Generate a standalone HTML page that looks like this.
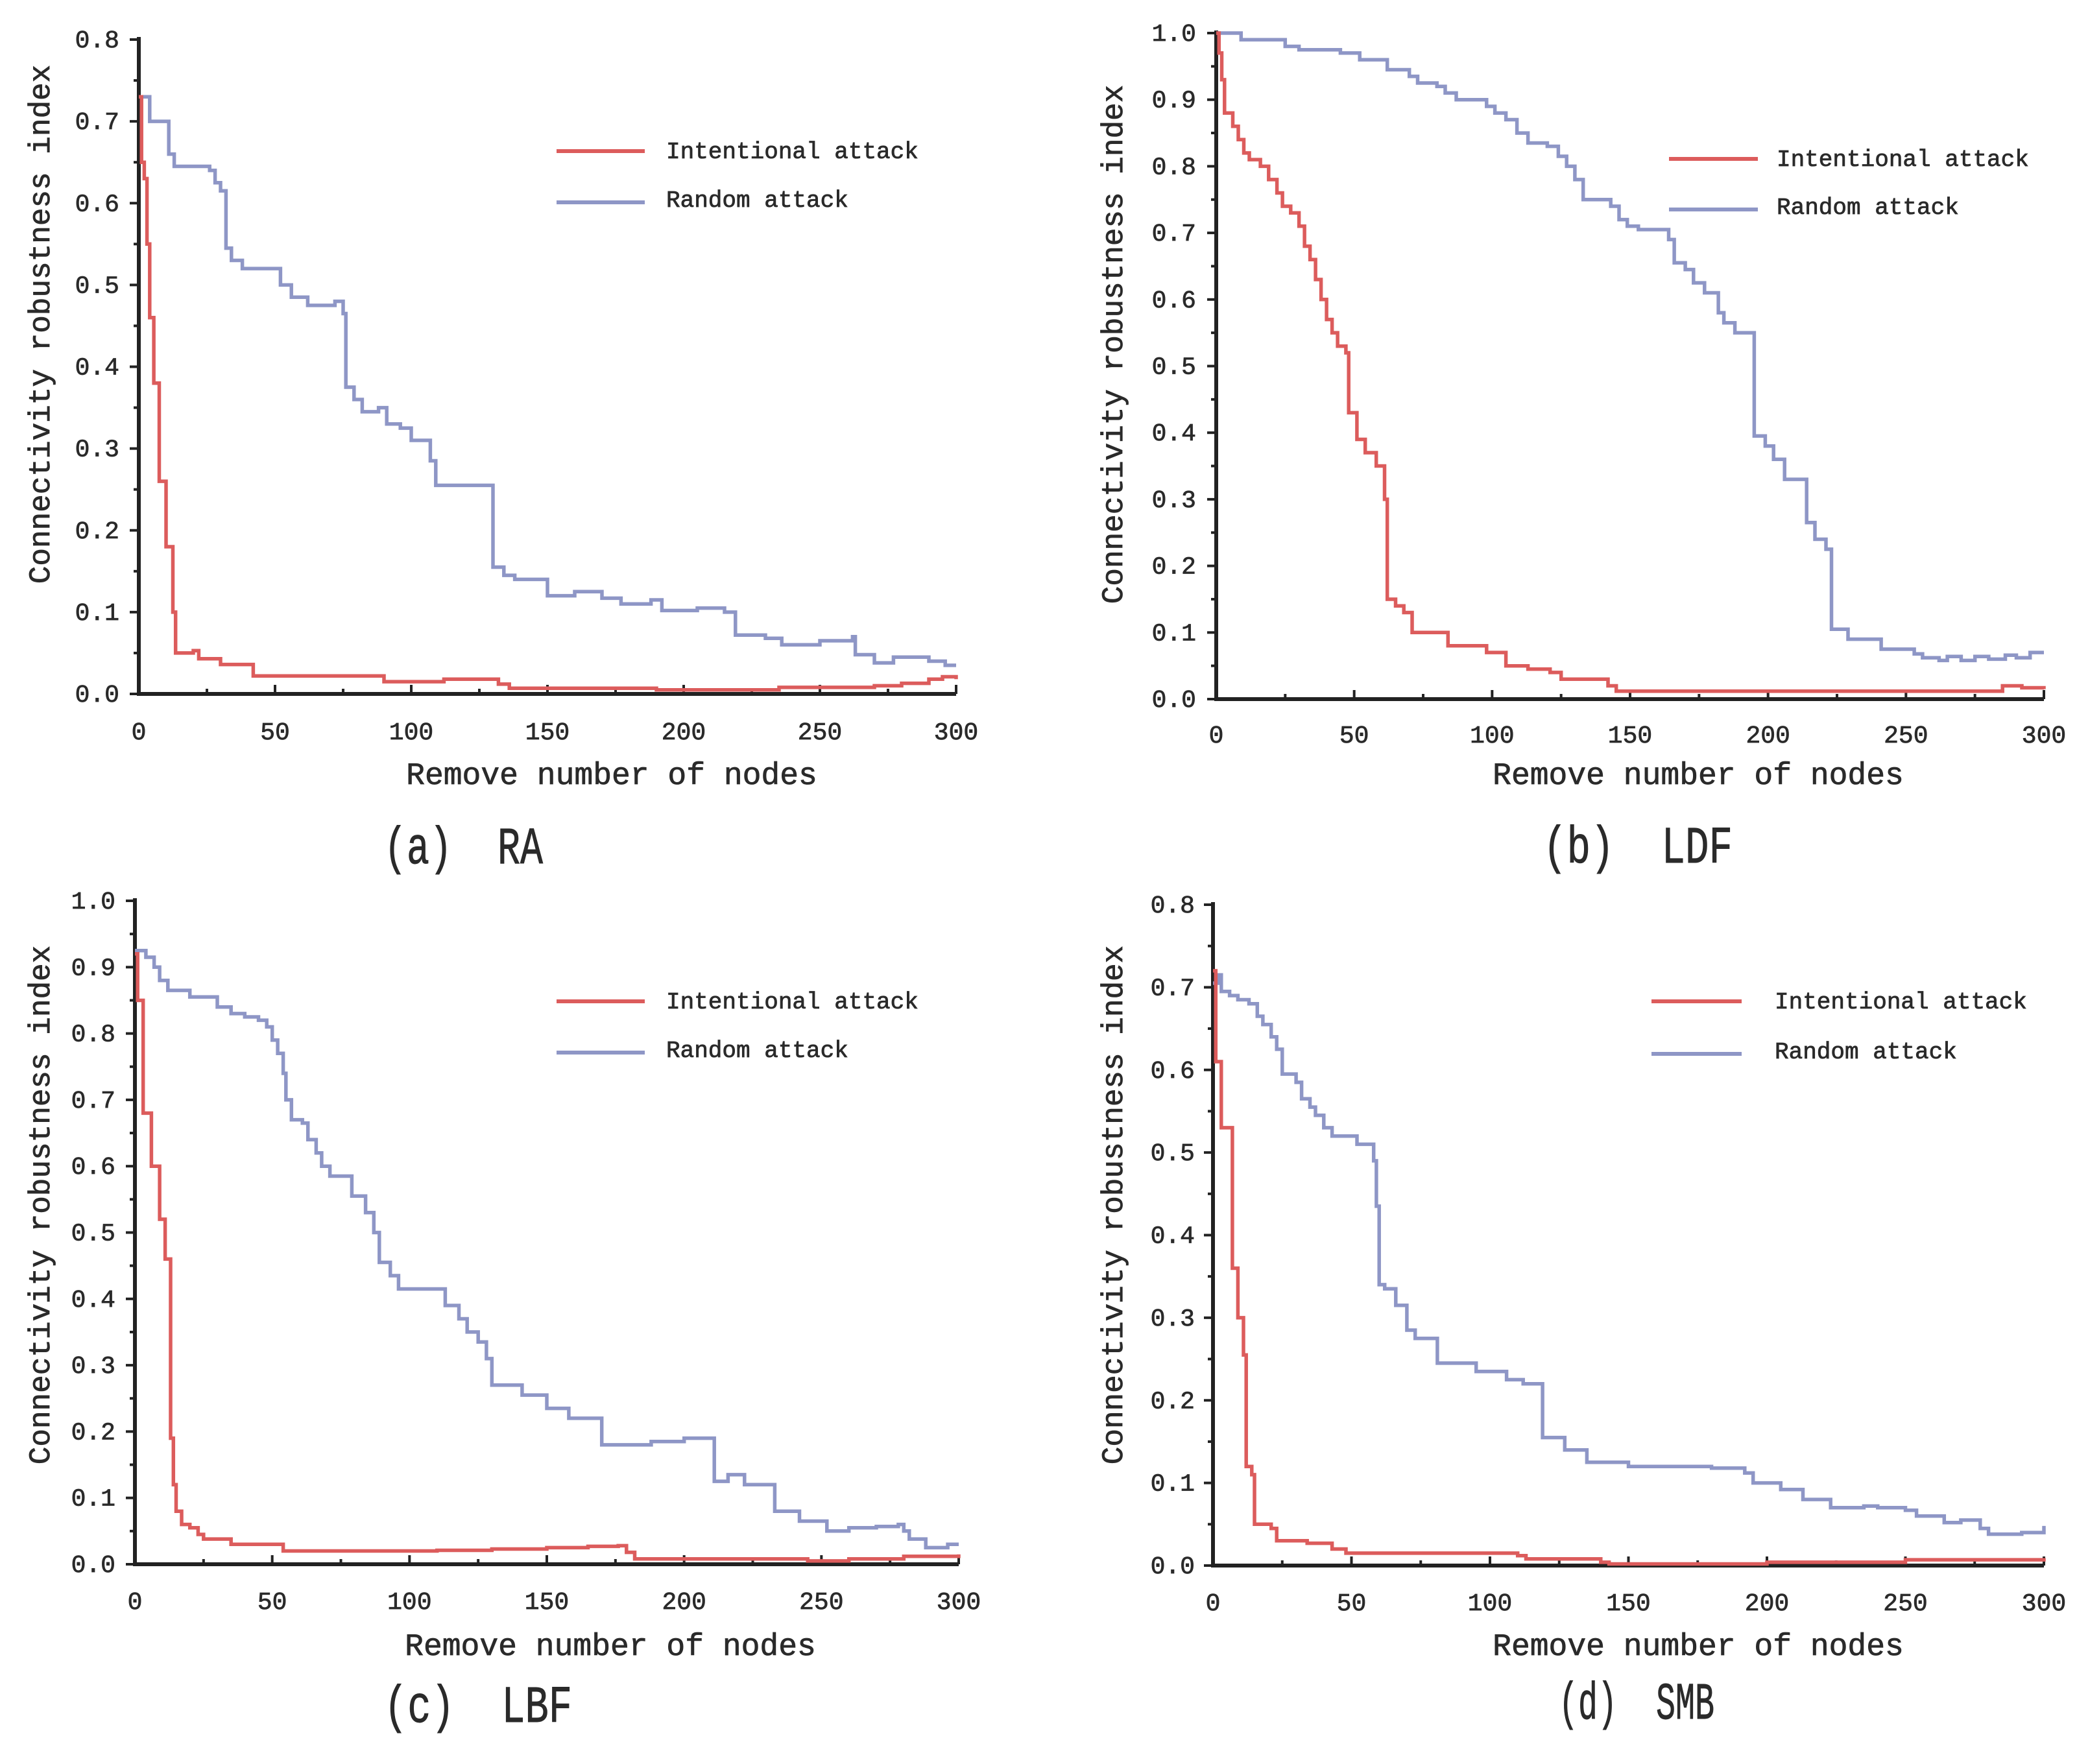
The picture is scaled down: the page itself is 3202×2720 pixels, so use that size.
<!DOCTYPE html>
<html><head><meta charset="utf-8">
<style>
html,body{margin:0;padding:0;background:#fff;}
svg{display:block;}
text{font-family:"Liberation Mono","DejaVu Sans Mono",monospace;fill:#2a2a2a;stroke:#2a2a2a;stroke-width:0.8px;}
</style></head>
<body>
<svg id="fig" width="3202" height="2720" viewBox="0 0 3202 2720" xmlns="http://www.w3.org/2000/svg"></svg>
<script>
// ---- data (step points: [removed nodes, robustness]) ----
const xTicks = [0,50,100,150,200,250,300];
const yTicks08 = [0.0,0.1,0.2,0.3,0.4,0.5,0.6,0.7,0.8];
const yTicks10 = [0.0,0.1,0.2,0.3,0.4,0.5,0.6,0.7,0.8,0.9,1.0];
const seriesNames = ["Intentional attack","Random attack"];

const raRed = [[0,0.73],[1,0.65],[2,0.63],[3,0.55],[4,0.46],[5.5,0.38],[7.5,0.26],[10,0.18],[12.5,0.10],[13.5,0.05],[20,0.053],[22,0.043],[30,0.036],[42,0.022],[90,0.015],[112,0.018],[132,0.012],[136,0.007],[190,0.005],[235,0.008],[270,0.01],[280,0.013],[290,0.018],[295,0.021],[300,0.018]];
const raBlue = [[0,0.73],[4,0.70],[11,0.66],[13,0.645],[26,0.64],[28,0.625],[30,0.615],[32,0.545],[34,0.53],[38,0.52],[52,0.50],[56,0.485],[62,0.475],[72,0.48],[75,0.465],[76,0.375],[79,0.36],[82,0.345],[88,0.35],[91,0.33],[96,0.325],[100,0.31],[107,0.285],[109,0.255],[114,0.255],[130,0.155],[134,0.145],[138,0.14],[150,0.12],[160,0.125],[170,0.117],[177,0.11],[188,0.115],[192,0.102],[205,0.105],[215,0.10],[219,0.072],[230,0.068],[236,0.06],[250,0.065],[262,0.07],[263,0.048],[270,0.038],[277,0.045],[290,0.04],[296,0.035],[300,0.035]];

const ldfRed = [[0,1.0],[1,0.97],[2,0.93],[3,0.88],[6,0.86],[8,0.84],[10,0.82],[12,0.81],[16,0.80],[19,0.78],[22,0.76],[24,0.74],[27,0.73],[30,0.71],[32,0.68],[34,0.66],[36,0.63],[38,0.60],[40,0.57],[42,0.55],[44,0.53],[47,0.52],[48,0.43],[51,0.39],[54,0.37],[58,0.35],[61,0.30],[62,0.15],[65,0.14],[68,0.13],[71,0.10],[84,0.08],[98,0.07],[105,0.05],[113,0.045],[121,0.04],[125,0.03],[142,0.02],[145,0.012],[284,0.012],[285,0.02],[292,0.017],[300,0.015]];
const ldfBlue = [[0,1.0],[9,0.99],[16,0.99],[25,0.98],[30,0.975],[45,0.97],[52,0.96],[60,0.96],[62,0.945],[70,0.935],[73,0.925],[80,0.92],[83,0.91],[87,0.90],[98,0.89],[101,0.88],[105,0.87],[109,0.85],[113,0.835],[120,0.83],[124,0.815],[127,0.80],[130,0.78],[133,0.75],[143,0.74],[146,0.72],[149,0.71],[153,0.705],[164,0.69],[166,0.655],[170,0.645],[173,0.625],[177,0.61],[182,0.58],[184,0.565],[188,0.55],[195,0.395],[199,0.38],[202,0.36],[206,0.33],[214,0.265],[217,0.24],[221,0.225],[223,0.105],[229,0.09],[241,0.075],[253,0.068],[256,0.062],[262,0.058],[265,0.064],[270,0.058],[275,0.064],[280,0.06],[286,0.066],[290,0.062],[295,0.07],[300,0.07]];

const lbfRed = [[0,0.92],[1,0.85],[3,0.68],[6,0.60],[9,0.52],[11,0.46],[13,0.19],[14,0.12],[15,0.08],[17,0.06],[20,0.055],[23,0.045],[25,0.038],[35,0.03],[54,0.02],[95,0.02],[110,0.021],[130,0.023],[150,0.025],[165,0.027],[176,0.028],[179,0.018],[182,0.008],[245,0.005],[260,0.008],[280,0.012],[300,0.015]];
const lbfBlue = [[0,0.925],[4,0.915],[7,0.9],[9,0.88],[12,0.865],[20,0.855],[30,0.84],[35,0.83],[40,0.825],[45,0.82],[48,0.81],[50,0.79],[52,0.77],[54,0.74],[55,0.70],[57,0.67],[61,0.665],[63,0.64],[66,0.62],[68,0.60],[71,0.585],[79,0.555],[84,0.53],[87,0.50],[89,0.455],[93,0.435],[96,0.415],[113,0.39],[118,0.37],[121,0.35],[125,0.335],[128,0.31],[130,0.27],[141,0.255],[150,0.235],[158,0.22],[170,0.18],[188,0.185],[200,0.19],[211,0.125],[216,0.135],[222,0.12],[233,0.08],[242,0.065],[252,0.05],[260,0.055],[270,0.057],[278,0.06],[280,0.05],[282,0.038],[288,0.025],[296,0.03],[300,0.03]];

const smbRed = [[0,0.72],[1,0.61],[3,0.53],[7,0.36],[9,0.30],[11,0.255],[12,0.12],[14,0.11],[15,0.05],[21,0.045],[23,0.03],[34,0.027],[43,0.02],[48,0.015],[110,0.012],[113,0.008],[140,0.004],[143,0.002],[200,0.004],[250,0.007],[300,0.009]];
const smbBlue = [[0,0.705],[2,0.715],[3,0.695],[6,0.69],[9,0.685],[13,0.68],[16,0.665],[18,0.655],[21,0.64],[23,0.625],[25,0.595],[30,0.585],[32,0.565],[35,0.555],[37,0.545],[40,0.53],[43,0.52],[52,0.51],[58,0.49],[59,0.435],[60,0.34],[62,0.335],[66,0.315],[70,0.285],[73,0.275],[81,0.245],[95,0.235],[106,0.225],[112,0.22],[119,0.155],[127,0.14],[135,0.125],[150,0.12],[175,0.12],[180,0.118],[192,0.112],[195,0.1],[205,0.092],[213,0.08],[223,0.07],[235,0.072],[240,0.07],[250,0.067],[254,0.06],[260,0.06],[264,0.052],[270,0.055],[277,0.045],[280,0.038],[292,0.04],[300,0.048]];

const NS = "http://www.w3.org/2000/svg";
const svg = document.getElementById('fig');
function mk(tag, attrs, parent, txt){
  const e = document.createElementNS(NS, tag);
  for (const k in attrs) e.setAttribute(k, attrs[k]);
  if (txt !== undefined) e.textContent = txt;
  parent.appendChild(e);
  return e;
}

const panels = [
  {id:'ra', cap:'(a)\u00a0\u00a0RA', x0:214,x1:1474,y0:1070,y1:61,ymax:0.8,yt:yTicks08,red:raRed,blue:raBlue,
   lg:{x0:858,x1:994,yr:233,yb:312,tx:1027}, yl:{x:61,y:500}, xl:{x:943,y:1209}, xtY:1140, ytX:184, capX:592, capY:1331, capW:245},
  {id:'ldf', cap:'(b)\u00a0\u00a0LDF', x0:1875,x1:3151,y0:1078,y1:51,ymax:1.0,yt:yTicks10,red:ldfRed,blue:ldfBlue,
   lg:{x0:2573,x1:2710,yr:245,yb:323,tx:2739}, yl:{x:1715,y:531}, xl:{x:2618,y:1209}, xtY:1145, ytX:1844, capX:2379, capY:1330, capW:292},
  {id:'lbf', cap:'(c)\u00a0\u00a0LBF', x0:208,x1:1478,y0:2412,y1:1389,ymax:1.0,yt:yTicks10,red:lbfRed,blue:lbfBlue,
   lg:{x0:858,x1:994,yr:1544,yb:1623,tx:1027}, yl:{x:61,y:1858}, xl:{x:941,y:2552}, xtY:2481, ytX:178, capX:592, capY:2655, capW:290},
  {id:'smb', cap:'(d)\u00a0\u00a0SMB', x0:1870,x1:3151,y0:2414,y1:1395,ymax:0.8,yt:yTicks08,red:smbRed,blue:smbBlue,
   lg:{x0:2546,x1:2685,yr:1544,yb:1625,tx:2736}, yl:{x:1715,y:1858}, xl:{x:2618,y:2552}, xtY:2483, ytX:1842, capX:2403, capY:2650, capW:240}
];

panels.forEach(p => {
  const g = mk('g', {}, svg);
  
  
  const sx = v => p.x0 + (v/300)*(p.x1-p.x0);
  const sy = v => p.y0 - (v/p.ymax)*(p.y0-p.y1);

  const ax = mk('path', {d:`M${p.x0} ${p.y1-4} L${p.x0} ${p.y0} L${p.x1} ${p.y0}`, stroke:'#222', 'stroke-width':6, fill:'none'}, g);
  
  

  for (let v=0; v<=300; v+=25){
    const major = v%50===0;
    mk('line', {x1:sx(v), x2:sx(v), y1:p.y0, y2:p.y0-(major?14:8), stroke:'#222','stroke-width':4}, g);
  }
  xTicks.forEach(v => {
    const t = mk('text', {x:sx(v), y:p.xtY, 'font-size':38, 'text-anchor':'middle'}, g, String(v));
    
    
  });
  const step = 0.05;
  for (let i=0; i*step<=p.ymax+1e-9; i++){
    const v = i*step;
    const major = i%2===0;
    mk('line', {x1:p.x0, x2:p.x0-(major?14:8), y1:sy(v), y2:sy(v), stroke:'#222','stroke-width':4}, g);
  }
  p.yt.forEach(v => {
    const t = mk('text', {x:p.ytX, y:sy(v)+12, 'font-size':38, 'text-anchor':'end'}, g, v.toFixed(1));
    
    
  });

  const yt = mk('text', {x:0, y:0, 'font-size':46, 'text-anchor':'middle', transform:`translate(${p.yl.x+15},${p.yl.y}) rotate(-90)`}, g, 'Connectivity robustness index');
  
  
  const xt = mk('text', {x:p.xl.x, y:p.xl.y, 'font-size':48, 'text-anchor':'middle'}, g, 'Remove number of nodes');
  
  
  const cap = mk('text', {x:p.capX, y:p.capY, 'font-size':70, 'stroke-width':1.5, textLength:p.capW, lengthAdjust:'spacingAndGlyphs', transform:`translate(0,${p.capY}) scale(1,1.15) translate(0,${-p.capY})`}, g, p.cap);
  
  

  function stepPath(arr){
    let d = `M${sx(arr[0][0]).toFixed(1)} ${sy(arr[0][1]).toFixed(1)}`;
    for (let i=1;i<arr.length;i++){
      d += ` H${sx(arr[i][0]).toFixed(1)} V${sy(arr[i][1]).toFixed(1)}`;
    }
    return d;
  }
  const bl = mk('path', {d:stepPath(p.blue), stroke:'#8e96c6', 'stroke-width':5.5, fill:'none'}, g);
  
  
  const rd = mk('path', {d:stepPath(p.red), stroke:'#dc5c5c', 'stroke-width':5.5, fill:'none'}, g);
  
  

  const lg = mk('g', {}, g);
  
  
  mk('line', {x1:p.lg.x0, x2:p.lg.x1, y1:p.lg.yr, y2:p.lg.yr, stroke:'#dc5c5c','stroke-width':6}, lg);
  mk('line', {x1:p.lg.x0, x2:p.lg.x1, y1:p.lg.yb, y2:p.lg.yb, stroke:'#8e96c6','stroke-width':6}, lg);
  const l1 = mk('text', {x:p.lg.tx, y:p.lg.yr+11, 'font-size':36}, lg, seriesNames[0]);
  
  
  const l2 = mk('text', {x:p.lg.tx, y:p.lg.yb+7, 'font-size':36}, lg, seriesNames[1]);
  
  
});
</script>
</body></html>
